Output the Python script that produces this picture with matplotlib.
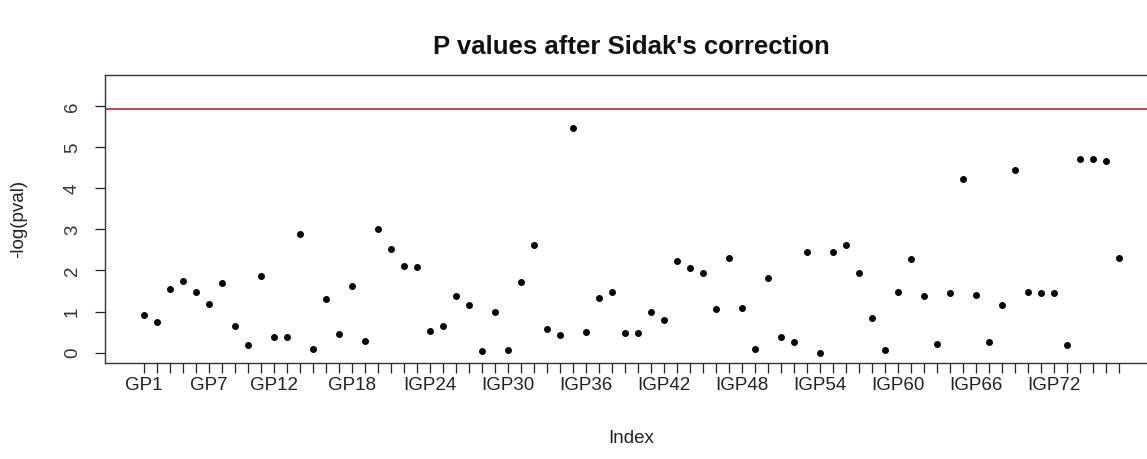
import matplotlib
matplotlib.use("Agg")
import matplotlib.pyplot as plt

# -log(pval) per marker
names = ["GP1", "GP3", "GP4", "GP5", "GP6", "GP7", "GP8", "GP9", "GP10", "GP11",
         "GP12", "GP13", "GP14", "GP15", "GP16", "GP17", "GP18", "GP19", "GP20", "GP21",
         "IGP22", "IGP23", "IGP24", "IGP25", "IGP26", "IGP27", "IGP28", "IGP29", "IGP30", "IGP31",
         "IGP32", "IGP33", "IGP34", "IGP35", "IGP36", "IGP37", "IGP38", "IGP39", "IGP40", "IGP41",
         "IGP42", "IGP43", "IGP44", "IGP45", "IGP46", "IGP47", "IGP48", "IGP49", "IGP50", "IGP51",
         "IGP52", "IGP53", "IGP54", "IGP55", "IGP56", "IGP57", "IGP58", "IGP59", "IGP60", "IGP61",
         "IGP62", "IGP63", "IGP64", "IGP65", "IGP66", "IGP67", "IGP68", "IGP69", "IGP70", "IGP71",
         "IGP72", "IGP73", "IGP74", "IGP75", "IGP76", "IGP77"]

neglog_p = [0.91, 0.75, 1.56, 1.74, 1.47, 1.19, 1.69, 0.66, 0.19, 1.87,
            0.38, 0.38, 2.89, 0.10, 1.31, 0.45, 1.62, 0.29, 3.02, 2.52,
            2.12, 2.09, 0.53, 0.66, 1.37, 1.16, 0.04, 1.00, 0.07, 1.71,
            2.61, 0.57, 0.44, 5.47, 0.50, 1.34, 1.47, 0.47, 0.47, 1.00,
            0.79, 2.24, 2.05, 1.93, 1.06, 2.30, 1.09, 0.10, 1.81, 0.38,
            0.26, 2.46, 0.00, 2.46, 2.61, 1.93, 0.84, 0.07, 1.47, 2.27,
            1.37, 0.22, 1.44, 4.22, 1.40, 0.25, 1.15, 4.44, 1.47, 1.44,
            1.44, 0.19, 4.72, 4.72, 4.66, 2.30]

# labels R kept after dropping the overlapping ones
shown_labels = ["GP1", "GP7", "GP12", "GP18", "IGP24", "IGP30", "IGP36", "IGP42",
                "IGP48", "IGP54", "IGP60", "IGP66", "IGP72"]

sidak_threshold = 5.94

plt.rcParams['font.family'] = ['Liberation Sans', 'DejaVu Sans']

fig = plt.figure(figsize=(11.47, 4.59), dpi=100)
ax = fig.add_axes([0.0913, 0.2085, 0.918, 0.628])

x = list(range(len(neglog_p)))
ax.plot(x, neglog_p, 'o', color='black', markersize=5, markeredgewidth=0)
ax.axhline(sidak_threshold, color='#c21f33', linewidth=1.2)

n = len(neglog_p)
ax.set_xlim(-0.04 * (n - 1), (n - 1) * 1.04)
ax.set_ylim(-0.26, 6.76)

ax.set_xticks(x)
ax.set_xticklabels([nm if nm in shown_labels else "" for nm in names], fontsize=13.5, color='#222222')
ax.set_yticks(range(0, 7))
ax.set_yticklabels([str(v) for v in range(0, 7)], fontsize=13.5, color='#333333',
                   rotation=90, va='center')
ax.tick_params(axis='x', length=7, width=0.9, pad=3, color='#222222')
ax.tick_params(axis='y', length=7, width=0.9, pad=10, color='#222222')

for s in ax.spines.values():
    s.set_color('#333333')
    s.set_linewidth(1.0)

fig.text(0.5501, 0.898, "P values after Sidak's correction", ha='center', va='center',
         fontsize=18.5, fontweight='bold', color='#111111')
fig.text(0.5501, 0.045, "Index", ha='center', va='center', fontsize=13.5, color='#222222')
fig.text(0.0165, 0.523, "-log(pval)", ha='center', va='center', rotation=90,
         fontsize=13.5, color='#222222')

fig.savefig("out.png", dpi=100)
